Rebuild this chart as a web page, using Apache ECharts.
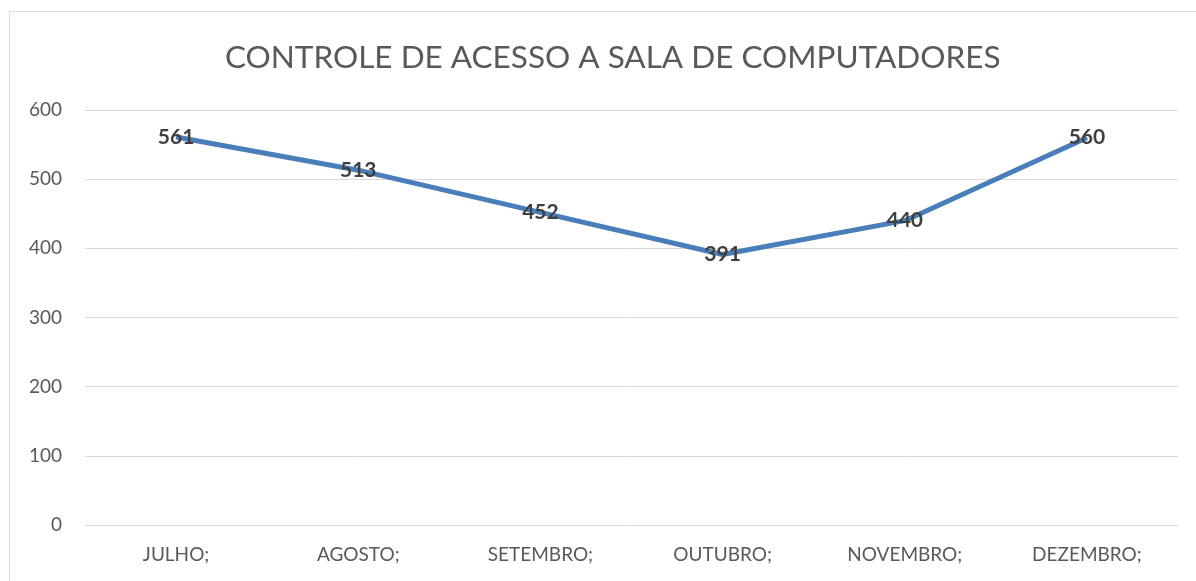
<!DOCTYPE html>
<html lang="pt">
    <head>
        <meta charset="utf-8" />
        <title>Controle de acesso</title>
        <style>
            * {
                margin: 0;
                padding: 0;
                box-sizing: border-box;
            }
            html,
            body {
                width: 100%;
                height: 100%;
                background: #fff;
                overflow: hidden;
            }
            #frame {
                position: absolute;
                left: 9px;
                top: 11px;
                width: 1400px;
                height: 800px;
                border: 1px solid #d9d9d9;
            }
            #chart {
                position: absolute;
                left: 0;
                top: 0;
                width: 1196px;
                height: 581px;
            }
        </style>
    </head>
    <body>
        <div id="frame"></div>
        <div id="chart"></div>
        <script src="https://cdn.jsdelivr.net/npm/echarts@6/dist/echarts.min.js"></script>
        <script>
            const months = ['JULHO;', 'AGOSTO;', 'SETEMBRO;', 'OUTUBRO;', 'NOVEMBRO;', 'DEZEMBRO;']
            const acessos = [561, 513, 452, 391, 440, 560]

            const font = 'Lato, "Open Sans", sans-serif'
            const chart = echarts.init(document.getElementById('chart'))
            chart.setOption({
                animation: false,
                title: {
                    text: 'CONTROLE DE ACESSO A SALA DE COMPUTADORES',
                    left: 220,
                    top: 37,
                    textStyle: {
                        fontFamily: font,
                        fontSize: 31.5,
                        fontWeight: 'normal',
                        color: '#595959',
                    },
                },
                grid: {
                    left: 85,
                    right: 18,
                    top: 110,
                    bottom: 56,
                },
                xAxis: {
                    type: 'category',
                    data: months,
                    boundaryGap: true,
                    axisLine: { show: false },
                    axisTick: { show: false },
                    axisLabel: {
                        margin: 20,
                        fontFamily: font,
                        fontSize: 19,
                        color: '#595959',
                    },
                },
                yAxis: {
                    type: 'value',
                    min: 0,
                    max: 600,
                    interval: 100,
                    axisLine: { show: false },
                    axisTick: { show: false },
                    splitLine: { lineStyle: { color: '#d9d9d9', width: 1 } },
                    axisLabel: {
                        margin: 23,
                        fontFamily: font,
                        fontSize: 19,
                        color: '#595959',
                    },
                },
                series: [
                    {
                        type: 'line',
                        data: acessos,
                        symbol: 'circle',
                        symbolSize: 1,
                        showSymbol: true,
                        itemStyle: { color: '#4a7ebb' },
                        lineStyle: { color: '#4a7ebb', width: 5 },
                        label: {
                            show: true,
                            position: 'inside',
                            fontFamily: font,
                            fontSize: 21,
                            fontWeight: 'bold',
                            color: '#404040',
                        },
                    },
                ],
            })
        </script>
    </body>
</html>
